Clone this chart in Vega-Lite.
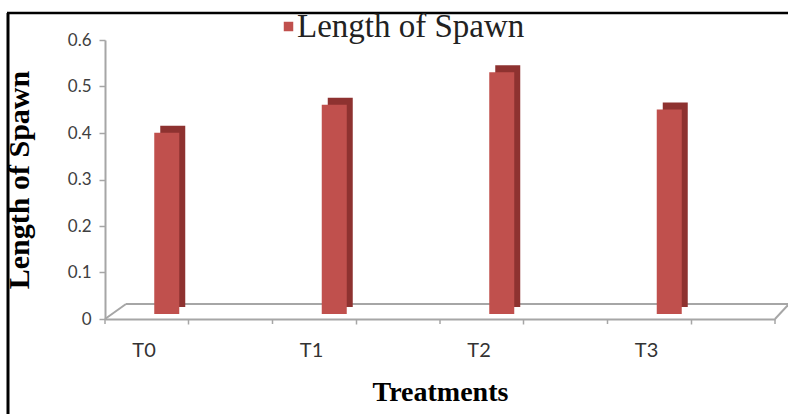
{
  "$schema": "https://vega.github.io/schema/vega-lite/v6.json",
  "width": 670,
  "height": 279,
  "autosize": {"type": "none"},
  "padding": {"left": 105, "top": 40, "right": 13, "bottom": 95},
  "background": "white",
  "config": {"view": {"stroke": null}, "axis": {"grid": false}},
  "data": {
    "values": [
      {"Treatment": "T0", "Length": 0.39},
      {"Treatment": "T1", "Length": 0.45},
      {"Treatment": "T2", "Length": 0.52},
      {"Treatment": "T3", "Length": 0.44}
    ]
  },
  "layer": [
    {
      "description": "floor: back edge",
      "data": {"values": [{}]},
      "mark": {"type": "rule", "color": "#A6A6A6", "strokeWidth": 2, "xOffset": 21, "x2Offset": 14, "yOffset": -15},
      "encoding": {
        "x": {"datum": "T0", "type": "nominal", "bandPosition": 0},
        "x2": {"datum": "T3", "bandPosition": 1},
        "y": {"datum": 0, "type": "quantitative"}
      }
    },
    {
      "description": "floor: left side",
      "data": {"values": [{}]},
      "mark": {"type": "rule", "color": "#A6A6A6", "strokeWidth": 2, "x2Offset": 21, "y2Offset": -15},
      "encoding": {
        "x": {"datum": "T0", "type": "nominal", "bandPosition": 0},
        "x2": {"datum": "T0", "bandPosition": 0},
        "y": {"datum": 0, "type": "quantitative"},
        "y2": {"datum": 0}
      }
    },
    {
      "description": "floor: right side",
      "data": {"values": [{}]},
      "mark": {"type": "rule", "color": "#A6A6A6", "strokeWidth": 2, "x2Offset": 14, "y2Offset": -15},
      "encoding": {
        "x": {"datum": "T3", "type": "nominal", "bandPosition": 1},
        "x2": {"datum": "T3", "bandPosition": 1},
        "y": {"datum": 0, "type": "quantitative"},
        "y2": {"datum": 0}
      }
    },
    {
      "description": "depth of each column (side and top faces), drawn behind the fronts",
      "mark": {"type": "bar", "color": "#8E3230", "width": 25, "xOffset": -16, "yOffset": -12},
      "encoding": {
        "x": {"field": "Treatment", "type": "nominal"},
        "y": {"field": "Length", "type": "quantitative"}
      }
    },
    {
      "description": "front faces of the columns; carries both axes and the legend",
      "mark": {"type": "bar", "width": 25, "xOffset": -22, "yOffset": -5},
      "encoding": {
        "x": {
          "field": "Treatment",
          "type": "nominal",
          "scale": {"paddingInner": 0, "paddingOuter": 0},
          "axis": {
            "title": "Treatments",
            "titleFont": "Liberation Serif",
            "titleFontSize": 28,
            "titleFontWeight": "bold",
            "titleColor": "#000000",
            "titlePadding": 18,
            "labelFont": "Lato",
            "labelFontSize": 20,
            "labelColor": "#333333",
            "labelAngle": 0,
            "labelOffset": -33,
            "labelPadding": 26,
            "domainColor": "#A6A6A6",
            "domainWidth": 2,
            "tickColor": "#A6A6A6",
            "tickSize": 5,
            "tickWidth": 1.5
          }
        },
        "y": {
          "field": "Length",
          "type": "quantitative",
          "scale": {"domain": [0, 0.6], "nice": false},
          "axis": {
            "title": "Length of Spawn",
            "values": [0, 0.1, 0.2, 0.3, 0.4, 0.5, 0.6],
            "format": ".1~f",
            "titleFont": "Liberation Serif",
            "titleFontSize": 30,
            "titleFontWeight": "bold",
            "titleColor": "#000000",
            "titlePadding": 33,
            "labelFont": "Lato",
            "labelFontSize": 17,
            "labelColor": "#404040",
            "labelPadding": 8,
            "domainColor": "#A6A6A6",
            "domainWidth": 2,
            "tickColor": "#A6A6A6",
            "tickSize": 6,
            "tickWidth": 1.5
          }
        },
        "color": {
          "datum": "Length of Spawn",
          "type": "nominal",
          "scale": {"range": ["#C0504D"]},
          "legend": {
            "orient": "none",
            "legendX": 167,
            "legendY": -30,
            "title": null,
            "symbolType": "square",
            "symbolSize": 90,
            "symbolStrokeWidth": 0,
            "labelFont": "Liberation Serif",
            "labelFontSize": 33,
            "labelColor": "#222222",
            "labelOffset": -8,
            "labelLimit": 400
          }
        }
      }
    },
    {
      "description": "frame: top edge",
      "data": {"values": [{}]},
      "mark": {"type": "rule", "color": "#000000", "strokeWidth": 2.5, "xOffset": -98, "x2Offset": 13, "yOffset": -27},
      "encoding": {
        "x": {"datum": "T0", "type": "nominal", "bandPosition": 0},
        "x2": {"datum": "T3", "bandPosition": 1},
        "y": {"datum": 0.6, "type": "quantitative"}
      }
    },
    {
      "description": "frame: left edge",
      "data": {"values": [{}]},
      "mark": {"type": "rule", "color": "#000000", "strokeWidth": 3, "xOffset": -97, "yOffset": -27, "y2Offset": 95},
      "encoding": {
        "x": {"datum": "T0", "type": "nominal", "bandPosition": 0},
        "y": {"datum": 0.6, "type": "quantitative"},
        "y2": {"datum": 0}
      }
    },
    {
      "description": "category boundary ticks on the floor edge",
      "mark": {"type": "rule", "color": "#A6A6A6", "strokeWidth": 1.5, "y2Offset": 5},
      "encoding": {
        "x": {"field": "Treatment", "type": "nominal", "bandPosition": 0},
        "y": {"datum": 0, "type": "quantitative"},
        "y2": {"datum": 0}
      }
    },
    {
      "description": "closing tick at the right end of the floor",
      "data": {"values": [{}]},
      "mark": {"type": "rule", "color": "#A6A6A6", "strokeWidth": 1.5, "y2Offset": 5},
      "encoding": {
        "x": {"datum": "T3", "type": "nominal", "bandPosition": 1},
        "y": {"datum": 0, "type": "quantitative"},
        "y2": {"datum": 0}
      }
    }
  ]
}
